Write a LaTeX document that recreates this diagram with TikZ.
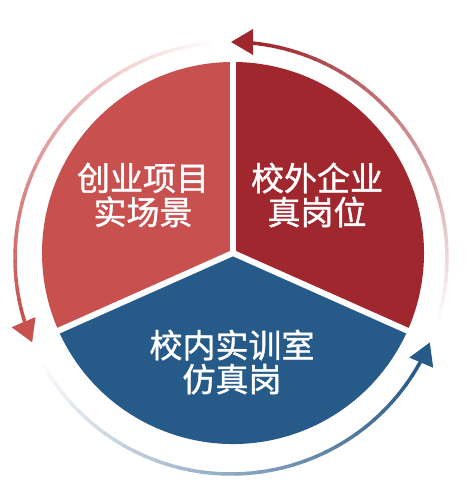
\documentclass[tikz,border=0pt]{standalone}
\usepackage{fontspec}
\newfontfamily\cjk[FakeBold=1.2]{Noto Sans CJK SC}
\usetikzlibrary{arrows.meta}

\definecolor{leftred}{HTML}{C8504F}
\definecolor{darkred}{HTML}{A1272E}
\definecolor{bluesec}{HTML}{265A88}

\tikzset{
  lbl/.style={text=white,font=\cjk\fontsize{33}{34}\selectfont,align=center},
  sep/.style={white,line width=6pt},
  ring/.style={line width=3.5pt},
  tip/.style={-{Triangle[length=22pt,width=25pt]}},
}

\begin{document}
\begin{tikzpicture}[x=1pt,y=1pt]

\useasboundingbox (0,0) rectangle (469,494);

\coordinate (o) at (233,241);
\coordinate (c) at (231,236);

% sectors
\fill[leftred] (o) -- ++(90:191) arc (90:204:191) -- cycle;
\fill[darkred] (o) -- ++(-24:191) arc (-24:90:191) -- cycle;
\fill[bluesec] (o) -- ++(204:191) arc (204:336:191) -- cycle;

\draw[sep] (o) -- ++(90:193);
\draw[sep] (o) -- ++(204:193);
\draw[sep] (o) -- ++(-24:193);

% fading arrows round the pie
\foreach \col/\a/\b in {darkred/-19/82, leftred/93/196, bluesec/206/330} {
  \foreach \i in {0,...,39} {
    \pgfmathsetmacro\p{100*\i/39}
    \pgfmathsetmacro\s{\a+(\b-\a)*\i/40}
    \pgfmathsetmacro\e{\a+(\b-\a)*(\i+1)/40+0.4}
    \draw[ring,\col!\p!white] (c) ++(\s:216) arc (\s:\e:216);
  }
}
\draw[ring,tip,darkred] (c) ++(82:216) arc (82:90:216);
\draw[ring,tip,leftred] (c) ++(196:216) arc (196:203:216);
\draw[ring,tip,bluesec] (c) ++(330:216) arc (330:337:216);

\node[lbl] (cy) at (143,299) {创业项目\\实场景};
\node[lbl] (xw) at (317,299) {校外企业\\真岗位};
\node[lbl] (xn) at (232,132) {校内实训室\\仿真岗};

\end{tikzpicture}
\end{document}
